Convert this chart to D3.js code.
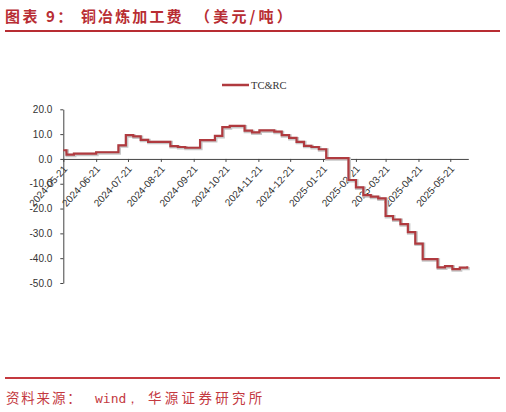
<!DOCTYPE html>
<html>
<head>
<meta charset="utf-8">
<script src="https://cdn.jsdelivr.net/npm/d3@7.9.0/dist/d3.min.js"></script>
<style>
  body { margin: 0; background: #fff; }
  svg { display: block; }
  .tick text { font-family: "Liberation Sans", Arial, sans-serif; font-size: 10px; fill: #333; }
</style>
</head>
<body>
<svg id="chart" width="506" height="412"></svg>
<script>
// weekly TC&RC readings (USD/t), only the weeks where the value changed
const dates = ['2024-05-21','2024-05-24','2024-05-31','2024-06-21','2024-07-12','2024-07-19','2024-07-26',
  '2024-08-02','2024-08-09','2024-08-30','2024-09-06','2024-09-13','2024-09-27','2024-10-11','2024-10-18',
  '2024-10-25','2024-11-08','2024-11-15','2024-11-22','2024-12-06','2024-12-13','2024-12-20','2024-12-27',
  '2025-01-03','2025-01-10','2025-01-17','2025-01-24','2025-02-14','2025-02-21','2025-02-28','2025-03-07',
  '2025-03-14','2025-03-21','2025-03-28','2025-04-04','2025-04-11','2025-04-18','2025-04-25','2025-05-09',
  '2025-05-16','2025-05-23','2025-05-30','2025-06-06'];
const tcrc = [3.5,1.7,2.1,2.7,5.5,9.6,9.1,7.7,6.9,5.2,4.8,4.5,7.6,9.3,12.8,13.3,11.4,10.7,11.5,11.0,
  9.6,8.5,6.9,5.3,4.8,3.9,0.3,-8.5,-11.5,-14.6,-15.2,-15.9,-23.0,-24.4,-26.3,-29.5,-34.1,-40.4,-43.7,
  -43.2,-44.4,-43.8,-43.2];
const xTicks = ['2024-05-21','2024-06-21','2024-07-21','2024-08-21','2024-09-21','2024-10-21','2024-11-21',
  '2024-12-21','2025-01-21','2025-02-21','2025-03-21','2025-04-21','2025-05-21'];
const yTicks = [20, 10, 0, -10, -20, -30, -40, -50];
const xEnd = '2025-06-07';

const titleParts = ['图表 9：', '铜冶炼加工费', '（美元/吨）'];
const sourceParts = ['资料来源：', 'wind，', '华源证券研究所'];
const seriesName = 'TC&RC';

const red = '#b82d33';
const lineColor = '#b03a3f';

const parse = d3.utcParse('%Y-%m-%d');
const data = dates.map((d, i) => ({ date: parse(d), value: tcrc[i] }));

const svg = d3.select('#chart');

// title, split so the spacing follows the original
const title = svg.append('text')
  .attr('y', 22)
  .attr('fill', red)
  .style('font-family', '"Noto Sans CJK SC", sans-serif')
  .style('font-size', '15px')
  .style('font-weight', 'bold');
title.append('tspan').attr('x', 5).style('letter-spacing', '2.5px').text(titleParts[0]);
title.append('tspan').attr('x', 81).style('letter-spacing', '2.1px').text(titleParts[1]);
title.append('tspan').attr('x', 195).style('letter-spacing', '3.2px').text(titleParts[2]);

svg.append('line')
  .attr('x1', 5).attr('x2', 500).attr('y1', 31).attr('y2', 31)
  .attr('stroke', red).attr('stroke-width', 2);

const x = d3.scaleUtc()
  .domain([parse(dates[0]), parse(xEnd)])
  .range([63.3, 468.3]);
const y = d3.scaleLinear()
  .domain([-50, 20])
  .range([283, 109.3]);

// legend
svg.append('line')
  .attr('x1', 222).attr('x2', 249).attr('y1', 85).attr('y2', 85)
  .attr('stroke', lineColor).attr('stroke-width', 2.5);
svg.append('text')
  .attr('x', 251).attr('y', 89)
  .attr('fill', '#333')
  .style('font-family', '"Liberation Serif", "Times New Roman", serif')
  .style('font-size', '10.5px')
  .text(seriesName);

// y axis
const yAxis = svg.append('g')
  .attr('transform', `translate(${x.range()[0]},0)`)
  .call(d3.axisLeft(y).tickValues(yTicks).tickSize(3).tickSizeOuter(0).tickPadding(8)
    .tickFormat(d => d.toFixed(1)));
yAxis.select('.domain').attr('stroke', '#444');
yAxis.selectAll('.tick line').attr('stroke', '#444');

// x axis sitting on zero
const xAxis = svg.append('g')
  .attr('transform', `translate(0,${y(0)})`)
  .call(d3.axisBottom(x).tickValues(xTicks.map(parse)).tickSize(3).tickSizeOuter(0)
    .tickFormat(d3.utcFormat('%Y-%m-%d')));
xAxis.select('.domain').attr('stroke', '#444');
xAxis.selectAll('.tick line').attr('stroke', '#444');
xAxis.selectAll('.tick text')
  .attr('x', 0).attr('y', 0).attr('dy', '0.35em')
  .attr('text-anchor', 'end')
  .attr('transform', 'translate(1.5,8) rotate(-48)');

// step line with a soft grey shadow
const line = d3.line()
  .x(d => x(d.date))
  .y(d => y(d.value))
  .curve(d3.curveStepAfter);

svg.append('path')
  .datum(data)
  .attr('d', line)
  .attr('fill', 'none')
  .attr('stroke', '#c8c8c8')
  .attr('stroke-width', 3.5)
  .attr('transform', 'translate(0.8,0.8)');
svg.append('path')
  .datum(data)
  .attr('d', line)
  .attr('fill', 'none')
  .attr('stroke', lineColor)
  .attr('stroke-width', 2.2);

// footer
svg.append('line')
  .attr('x1', 5).attr('x2', 500).attr('y1', 378).attr('y2', 378)
  .attr('stroke', '#c4393f').attr('stroke-width', 2);
const source = svg.append('text')
  .attr('y', 403)
  .attr('fill', '#c4393f')
  .style('font-family', '"Noto Sans CJK SC", sans-serif')
  .style('font-size', '13.5px');
source.append('tspan').attr('x', 6).style('letter-spacing', '1.8px').text(sourceParts[0]);
source.append('tspan').attr('x', 95)
  .style('font-family', '"DejaVu Sans Mono", monospace').style('font-size', '13px')
  .text(sourceParts[1]);
source.append('tspan').attr('x', 148).style('letter-spacing', '3.3px').text(sourceParts[2]);
</script>
</body>
</html>
